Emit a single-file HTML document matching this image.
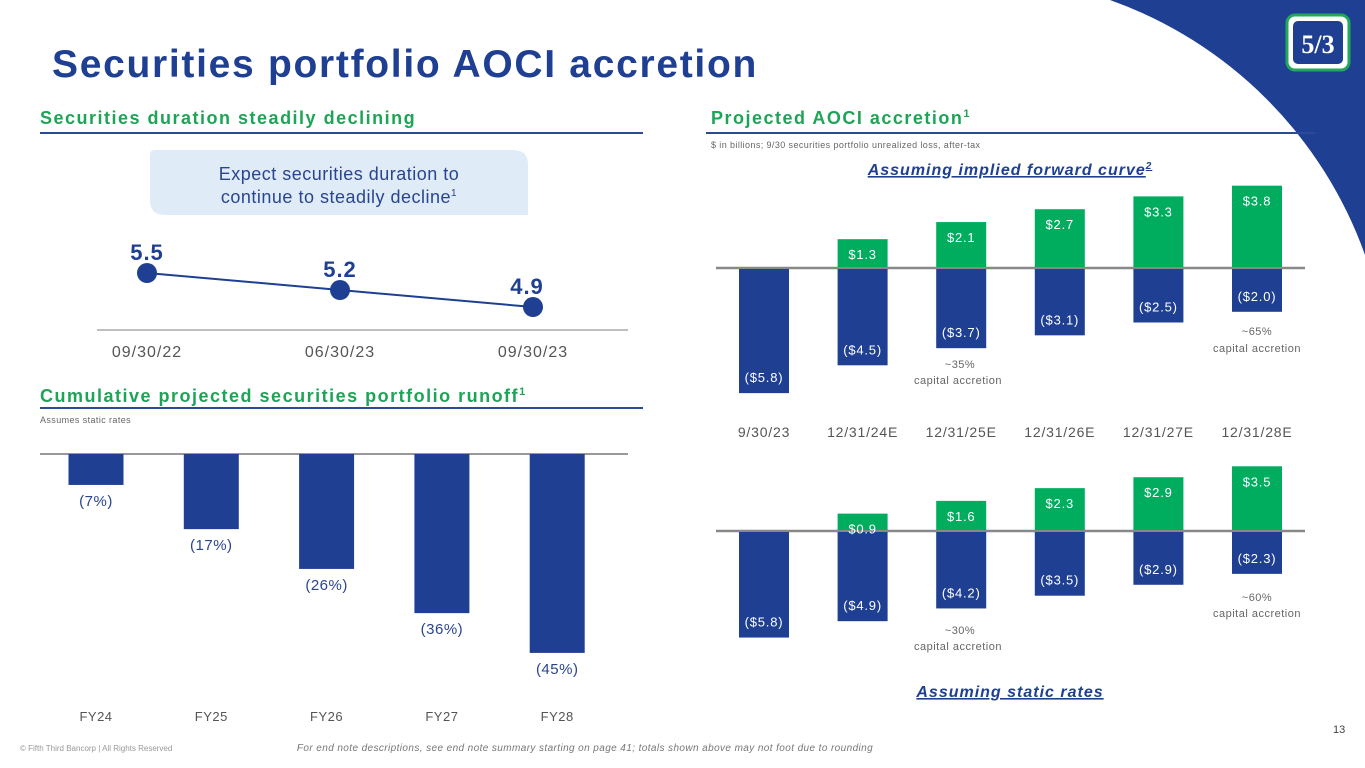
<!DOCTYPE html>
<html><head><meta charset="utf-8"><style>
html,body{margin:0;padding:0;background:#fff;}
body{width:1365px;height:768px;position:relative;overflow:hidden;font-family:"Liberation Sans","DejaVu Sans",sans-serif;}
svg{position:absolute;left:0;top:0;}
</style></head><body>
<svg id="s" width="1365" height="768" viewBox="0 0 1365 768">
<path d="M1110,0 A420 420 0 0 1 1365,255 L1365,0 Z" fill="#1e3f92"/>
<g>
<rect x="1287" y="15" width="62" height="55" rx="8" fill="#fff" stroke="#22a85a" stroke-width="3"/>
<rect x="1293" y="21" width="50" height="43" rx="5" fill="#1e3f92"/>
<text x="1318" y="53" text-anchor="middle" font-size="26" font-weight="bold" fill="#fff" font-family="Liberation Serif,serif">5/3</text>
</g>
<text x="52" y="77" font-size="39" font-weight="bold" fill="#1e3f92" letter-spacing="1.7">Securities portfolio AOCI accretion</text>
<text x="40" y="124" font-size="18" font-weight="bold" fill="#1ea456" letter-spacing="1.5">Securities duration steadily declining</text>
<line x1="40" y1="133" x2="643" y2="133" stroke="#2b4a98" stroke-width="2"/>
<text x="711" y="124" font-size="18" font-weight="bold" fill="#1ea456" letter-spacing="1.5">Projected AOCI accretion<tspan font-size="11" dy="-7">1</tspan></text>
<line x1="706" y1="133" x2="1315" y2="133" stroke="#2b4a98" stroke-width="2"/>
<text x="711" y="148" font-size="9" fill="#666" letter-spacing="0.4">$ in billions; 9/30 securities portfolio unrealized loss, after-tax</text>
<path d="M165,150 H513 Q528,150 528,165 V215 H165 Q150,215 150,200 V155 Q150,150 155,150Z" fill="#dfebf7"/>
<text x="339" y="180" font-size="18" fill="#2a4590" text-anchor="middle" letter-spacing="0.5">Expect securities duration to</text>
<text x="339" y="203" font-size="18" fill="#2a4590" text-anchor="middle" letter-spacing="0.5">continue to steadily decline<tspan font-size="10" dy="-7">1</tspan></text>
<line x1="97" y1="330" x2="628" y2="330" stroke="#aaa" stroke-width="1.5"/>
<text x="40" y="402" font-size="18" font-weight="bold" fill="#1ea456" letter-spacing="1.5">Cumulative projected securities portfolio runoff<tspan font-size="11" dy="-7">1</tspan></text>
<line x1="40" y1="408" x2="643" y2="408" stroke="#2b4a98" stroke-width="2"/>
<text x="40" y="423" font-size="9" fill="#666" letter-spacing="0.4">Assumes static rates</text>
<line x1="40" y1="454" x2="628" y2="454" stroke="#999" stroke-width="2"/>
<text x="1010" y="175" font-size="16" font-weight="bold" font-style="italic" fill="#1e3f92" text-anchor="middle" text-decoration="underline" letter-spacing="1">Assuming implied forward curve<tspan font-size="10" dy="-6">2</tspan></text>
<text x="1010" y="697" font-size="16" font-weight="bold" font-style="italic" fill="#1e3f92" text-anchor="middle" text-decoration="underline" letter-spacing="1">Assuming static rates</text>
<text x="960" y="368" font-size="11" fill="#666" text-anchor="middle" letter-spacing="0.5">~35%</text>
<text x="958" y="384" font-size="11" fill="#666" text-anchor="middle" letter-spacing="0.5">capital accretion</text>
<text x="1257" y="335" font-size="11" fill="#666" text-anchor="middle" letter-spacing="0.5">~65%</text>
<text x="1257" y="352" font-size="11" fill="#666" text-anchor="middle" letter-spacing="0.5">capital accretion</text>
<text x="960" y="634" font-size="11" fill="#666" text-anchor="middle" letter-spacing="0.5">~30%</text>
<text x="958" y="650" font-size="11" fill="#666" text-anchor="middle" letter-spacing="0.5">capital accretion</text>
<text x="1257" y="601" font-size="11" fill="#666" text-anchor="middle" letter-spacing="0.5">~60%</text>
<text x="1257" y="617" font-size="11" fill="#666" text-anchor="middle" letter-spacing="0.5">capital accretion</text>
<text x="20" y="751" font-size="8" fill="#999">© Fifth Third Bancorp | All Rights Reserved</text>
<text x="585" y="751" font-size="10" font-style="italic" fill="#777" text-anchor="middle" letter-spacing="0.4">For end note descriptions, see end note summary starting on page 41; totals shown above may not foot due to rounding</text>
<text x="1333" y="733" font-size="11" fill="#444">13</text>
<g id="g"></g>
</svg>
<script>
const durCats=["09/30/22","06/30/23","09/30/23"];
const durVals=[5.5,5.2,4.9];
const runCats=["FY24","FY25","FY26","FY27","FY28"];
const runVals=[7,17,26,36,45];
const aociCats=["9/30/23","12/31/24E","12/31/25E","12/31/26E","12/31/27E","12/31/28E"];
const fwdLoss=[5.8,4.5,3.7,3.1,2.5,2.0];
const fwdGain=[0,1.3,2.1,2.7,3.3,3.8];
const staLoss=[5.8,4.9,4.2,3.5,2.9,2.3];
const staGain=[0,0.9,1.6,2.3,2.9,3.5];

const NS="http://www.w3.org/2000/svg",G=document.getElementById('g');
function mk(t,a,txt){const e=document.createElementNS(NS,t);for(const k in a)e.setAttribute(k,a[k]);if(txt!=null)e.textContent=txt;G.appendChild(e);return e;}
const BLUE="#1e3f92",GREEN="#00ad5f";
const dx=i=>147+i*193, dy=v=>273-(v-5.5)*56.7;
let pts=durVals.map((v,i)=>dx(i)+","+dy(v)).join(" ");
let pl=mk('polyline',{points:pts,fill:"none",stroke:BLUE,"stroke-width":2});


durVals.forEach((v,i)=>{
 let c=mk('circle',{cx:dx(i),cy:dy(v),r:10,fill:BLUE});
 
 
 mk('text',{x:dx(i)+(i==2?-6:0),y:dy(v)-13,"font-size":22,"font-weight":"bold",fill:BLUE,"text-anchor":"middle","letter-spacing":1},v.toFixed(1));
 mk('text',{x:dx(i),y:357,"font-size":16,fill:"#555","text-anchor":"middle","letter-spacing":1},durCats[i]);
});
const rx=i=>96+i*115.3, ry=v=>454+v*4.42;
runVals.forEach((v,i)=>{
 let r=mk('rect',{x:rx(i)-27.5,y:454,width:55,height:ry(v)-454,fill:BLUE});
 
 
 mk('text',{x:rx(i),y:ry(v)+21,"font-size":15,fill:"#2a4590","text-anchor":"middle","letter-spacing":0.5},"("+v+"%)");
 mk('text',{x:rx(i),y:721,"font-size":13,fill:"#555","text-anchor":"middle","letter-spacing":0.5},runCats[i]);
});
const ax=i=>764+i*98.6;
function chart(base,scale,loss,gain,name){
 mk('line',{x1:716,y1:base,x2:1305,y2:base,stroke:"#888","stroke-width":2.5});
 loss.forEach((v,i)=>{
  let r=mk('rect',{x:ax(i)-25,y:base+1,width:50,height:v*scale,fill:BLUE});
  
  
  mk('text',{x:ax(i),y:base+v*scale-10,"font-size":13,fill:"#fff","text-anchor":"middle","letter-spacing":0.8},"($"+v.toFixed(1)+")");
  if(gain[i]>0){
   let g=mk('rect',{x:ax(i)-25,y:base-1-gain[i]*scale,width:50,height:gain[i]*scale,fill:GREEN});
   
   
   mk('text',{x:ax(i),y:base-gain[i]*scale+19,"font-size":13,fill:"#fff","text-anchor":"middle","letter-spacing":0.8},"$"+gain[i].toFixed(1));
  }
 });
}
chart(268,21.4,fwdLoss,fwdGain,'forward');
chart(531,18.2,staLoss,staGain,'static');
aociCats.forEach((c,i)=>mk('text',{x:ax(i),y:437,"font-size":14,fill:"#555","text-anchor":"middle","letter-spacing":0.8},c));
</script>
</body></html>
